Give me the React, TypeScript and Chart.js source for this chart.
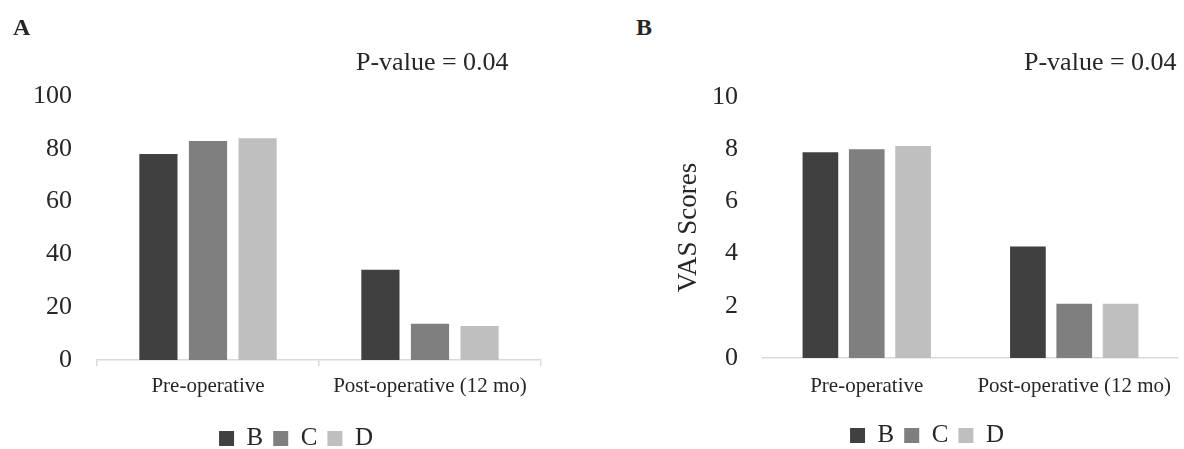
import React, { useEffect, useRef } from "react";
import { Chart, registerables } from "chart.js";

Chart.register(...registerables);

// ---- data ----
const categories = ["Pre-operative", "Post-operative (12 mo)"];
const seriesNames = ["B", "C", "D"];
const seriesColors = ["#404040", "#7f7f7f", "#bfbfbf"];

// Panel A
const panelA_B = [78, 34.2];
const panelA_C = [83, 13.7];
const panelA_D = [84, 12.9];
const panelA_yMax = 100;
const panelA_yStep = 20;

// Panel B (VAS)
const panelB_B = [7.88, 4.27];
const panelB_C = [8.0, 2.08];
const panelB_D = [8.12, 2.08];
const panelB_yMax = 10;
const panelB_yStep = 2;
const panelB_yTitle = "VAS Scores";

const pValueLabel = "P-value = 0.04";

const FONT = "'Liberation Serif', 'Times New Roman', serif";
const TEXT = "#262626";
const AXIS = "#d9d9d9";

type PanelProps = {
  values: number[][];
  yMax: number;
  yStep: number;
  yTitle?: string;
  catTicks: boolean;
  yAxisWidth: number;
  rightGap: number;
  xAxisHeight: number;
  xTickPadding: number;
  padTop: number;
  width: number;
  height: number;
};

function Panel(p: PanelProps) {
  const ref = useRef<HTMLCanvasElement | null>(null);
  useEffect(() => {
    if (!ref.current) return;
    const chart = new Chart(ref.current, {
      type: "bar",
      data: {
        labels: categories,
        datasets: seriesNames.map((n, i) => ({
          label: n,
          data: p.values[i],
          backgroundColor: seriesColors[i],
          borderWidth: 0,
          categoryPercentage: 0.67,
          barPercentage: 0.77,
          yAxisID: "y",
        })),
      },
      options: {
        animation: false,
        responsive: true,
        maintainAspectRatio: false,
        layout: { padding: { top: p.padTop, right: 0, left: 0, bottom: 0 } },
        plugins: {
          tooltip: { enabled: false },
          title: { display: false },
          legend: {
            position: "bottom",
            labels: {
              boxWidth: 15,
              boxHeight: 15,
              padding: 10,
              color: TEXT,
              font: { family: FONT, size: 25 },
            },
          },
        },
        scales: {
          x: {
            grid: {
              display: p.catTicks,
              drawOnChartArea: false,
              drawTicks: true,
              tickLength: 6,
              color: AXIS,
              lineWidth: 1.5,
              offset: true,
            },
            border: { display: true, color: AXIS, width: 1.5 },
            ticks: {
              color: TEXT,
              font: { family: FONT, size: 21 },
              maxRotation: 0,
              autoSkip: false,
              padding: p.xTickPadding,
            },
            afterFit: (scale: any) => {
              scale.height = p.xAxisHeight;
            },
          },
          y: {
            position: "left",
            min: 0,
            max: p.yMax,
            grid: { display: false },
            border: { display: false },
            ticks: {
              stepSize: p.yStep,
              color: TEXT,
              font: { family: FONT, size: 26 },
              padding: 17,
            },
            title: {
              display: !!p.yTitle,
              text: p.yTitle || "",
              color: TEXT,
              font: { family: FONT, size: 27, lineHeight: 1 },
              padding: { top: 5, bottom: 0 },
            },
            afterFit: (scale: any) => {
              scale.width = p.yAxisWidth;
            },
          },
          yGap: {
            type: "linear",
            position: "right",
            display: true,
            grid: { display: false },
            border: { display: false },
            ticks: { display: false },
            afterFit: (scale: any) => {
              scale.width = p.rightGap;
            },
          },
        },
      },
    });
    return () => chart.destroy();
  }, []);
  return (
    <div style={{ position: "relative", width: p.width, height: p.height }}>
      <canvas ref={ref} />
    </div>
  );
}

const textStyle: React.CSSProperties = {
  position: "absolute",
  fontFamily: FONT,
  color: TEXT,
  whiteSpace: "nowrap",
  lineHeight: "30px",
  height: 30,
};

export default function App() {
  return (
    <div
      style={{
        position: "fixed",
        left: 0,
        top: 0,
        width: 1184,
        height: 449,
        background: "#ffffff",
        overflow: "hidden",
      }}
    >
      <div style={{ position: "absolute", left: 0, top: 0 }}>
        <Panel
          values={[panelA_B, panelA_C, panelA_D]}
          yMax={panelA_yMax}
          yStep={panelA_yStep}
          catTicks={true}
          yAxisWidth={97}
          rightGap={51}
          xAxisHeight={56}
          xTickPadding={8}
          padTop={96}
          width={592}
          height={461}
        />
      </div>
      <div style={{ position: "absolute", left: 670, top: 0 }}>
        <Panel
          values={[panelB_B, panelB_C, panelB_D]}
          yMax={panelB_yMax}
          yStep={panelB_yStep}
          yTitle={panelB_yTitle}
          catTicks={false}
          yAxisWidth={93}
          rightGap={6}
          xAxisHeight={55}
          xTickPadding={10}
          padTop={97}
          width={514}
          height={458}
        />
      </div>
      <div style={{ ...textStyle, left: 13, top: 12, fontWeight: "bold", fontSize: 24 }}>A</div>
      <div style={{ ...textStyle, left: 636, top: 12, fontWeight: "bold", fontSize: 24 }}>B</div>
      <div style={{ ...textStyle, left: 356, top: 47, fontSize: 26 }}>{pValueLabel}</div>
      <div style={{ ...textStyle, left: 1024, top: 47, fontSize: 26 }}>{pValueLabel}</div>
    </div>
  );
}
